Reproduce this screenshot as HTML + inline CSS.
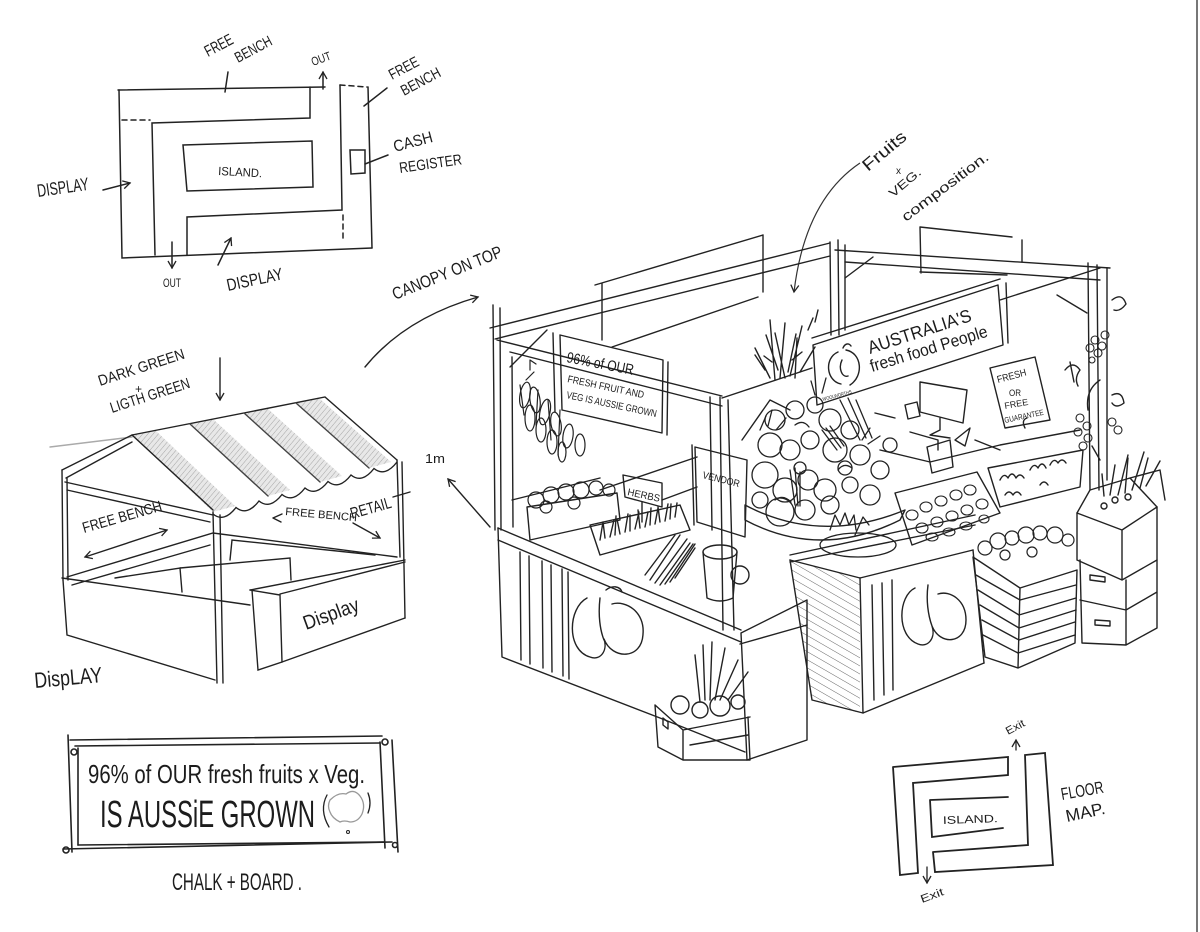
<!DOCTYPE html>
<html><head><meta charset="utf-8"><style>
html,body{margin:0;padding:0;background:#fff;}
svg{display:block;}
text{font-family:"Liberation Sans",sans-serif;fill:#1c1c1c;}
</style></head><body>
<svg width="1200" height="932" viewBox="0 0 1200 932" xmlns="http://www.w3.org/2000/svg">
<defs>
<pattern id="roofh" width="4" height="4" patternUnits="userSpaceOnUse" patternTransform="rotate(40)"><rect width="4" height="4" fill="#e8e8e8"/><line x1="0" y1="0" x2="0" y2="4" stroke="#a5a5a5" stroke-width="1"/></pattern>
<pattern id="hatch" width="7" height="7" patternUnits="userSpaceOnUse" patternTransform="rotate(-60)"><line x1="0" y1="0" x2="0" y2="7" stroke="#555" stroke-width="0.9"/></pattern>
<marker id="ah" markerWidth="10" markerHeight="10" refX="8" refY="5" orient="auto" markerUnits="userSpaceOnUse"><path d="M1 1 L8 5 L1 9" fill="none" stroke="#222" stroke-width="1.3"/></marker>
<marker id="ahs" markerWidth="10" markerHeight="10" refX="2" refY="5" orient="auto" markerUnits="userSpaceOnUse"><path d="M9 1 L2 5 L9 9" fill="none" stroke="#222" stroke-width="1.3"/></marker>
</defs>
<rect width="1200" height="932" fill="#fff"/>
<line x1="1197" y1="0" x2="1197" y2="932" stroke="#777" stroke-width="2"/>

<!-- ========== TOP-LEFT PLAN ========== -->
<g fill="none" stroke="#222" stroke-width="1.5" stroke-linecap="round">
<path d="M118 90 L325 87"/>
<path d="M119 90 L122 258 L372 248"/>
<path d="M310 87 L310 118 L152 123 L155 255"/>
<path d="M122 120 L150 120" stroke-dasharray="5 4"/>
<path d="M187 255 L187 217 L342 210 L340 85"/>
<path d="M340 85 L367 87" stroke-dasharray="5 4"/>
<path d="M368 87 L372 248"/>
<path d="M343 215 L343 242" stroke-dasharray="5 4"/>
<path d="M183 145 L312 141 L313 187 L187 191 Z"/>
<path d="M350 150 L365 150 L365 173 L351 174 Z"/>
<path d="M323 89 L323 72" marker-end="url(#ah)"/>
<path d="M172 242 L172 268" marker-end="url(#ah)"/>
<path d="M103 190 L130 183" marker-end="url(#ah)"/>
<path d="M218 265 L231 238" marker-end="url(#ah)"/>
<path d="M225 92 L228 72"/>
<path d="M364 106 L387 88"/>
<path d="M365 164 L388 155"/>
</g>
<text x="208" y="57" font-size="16" textLength="30" lengthAdjust="spacingAndGlyphs" transform="rotate(-28 208 57)">FREE</text>
<text x="238" y="63" font-size="15" textLength="40" lengthAdjust="spacingAndGlyphs" transform="rotate(-28 238 63)">BENCH</text>
<text x="313" y="66" font-size="12" textLength="20" lengthAdjust="spacingAndGlyphs" transform="rotate(-20 313 66)">OUT</text>
<text x="392" y="80" font-size="15" textLength="32" lengthAdjust="spacingAndGlyphs" transform="rotate(-28 392 80)">FREE</text>
<text x="404" y="96" font-size="15" textLength="43" lengthAdjust="spacingAndGlyphs" transform="rotate(-28 404 96)">BENCH</text>
<text x="395" y="152" font-size="16" textLength="40" lengthAdjust="spacingAndGlyphs" transform="rotate(-15 395 152)">CASH</text>
<text x="400" y="173" font-size="15" textLength="63" lengthAdjust="spacingAndGlyphs" transform="rotate(-8 400 173)">REGISTER</text>
<text x="38" y="197" font-size="18" textLength="52" lengthAdjust="spacingAndGlyphs" transform="rotate(-8 38 197)">DISPLAY</text>
<text x="163" y="287" font-size="12" textLength="18" lengthAdjust="spacingAndGlyphs">OUT</text>
<text x="228" y="291" font-size="17" textLength="57" lengthAdjust="spacingAndGlyphs" transform="rotate(-12 228 291)">DISPLAY</text>
<text x="218" y="175" font-size="12" textLength="44" lengthAdjust="spacingAndGlyphs" transform="rotate(3 218 175)">ISLAND.</text>
<text x="395" y="300" font-size="17" textLength="117" lengthAdjust="spacingAndGlyphs" transform="rotate(-22 395 300)">CANOPY ON TOP</text>

<!-- ========== TENT SKETCH ========== -->
<text x="100" y="386" font-size="15" textLength="90" lengthAdjust="spacingAndGlyphs" transform="rotate(-18 100 386)">DARK GREEN</text>
<text x="135" y="393" font-size="12">+</text>
<text x="112" y="413" font-size="15" textLength="83" lengthAdjust="spacingAndGlyphs" transform="rotate(-18 112 413)">LIGTH GREEN</text>
<g fill="url(#roofh)" stroke="none">
<polygon points="132,435 155,430 235,506 213,512"/>
<polygon points="190,424 213,419 290,490 268,496"/>
<polygon points="244,413 267,408 342,476 320,482"/>
<polygon points="296,403 319,398 391,462 369,468"/>
</g>
<g fill="none" stroke="#222" stroke-width="1.4" stroke-linecap="round">
<path d="M220 358 L220 400" marker-end="url(#ah)"/>
<path d="M50 447 L132 437" stroke="#aaa"/>
<path d="M62 470 L132 435 L213 510"/>
<path d="M66 478 L132 442"/>
<path d="M132 435 L325 397 L397 460"/>
<path d="M65 482 L213 515"/>
<path d="M67 490 L210 522"/>
<path d="M213 514 q11 9 23 -6.5 q11 9 23 -6.5 q11 9 23 -6.5 q11 9 23 -6.5 q11 9 23 -6.5 q11 9 23 -6.5 q11 9 23 -6.5 q11 9 23 -6.5"/>
<path d="M190 424 L268 496 M244 413 L320 482 M296 403 L369 468" stroke="#444"/>
<path d="M62 470 L63 580 M67 478 L68 580"/>
<path d="M397 460 L400 557 M402 462 L405 618"/>
<path d="M213 512 L217 683 M220 515 L223 683"/>
<path d="M62 578 L250 605"/>
<path d="M63 580 L67 635 L215 680"/>
<path d="M67 577 L213 533 L397 557"/>
<path d="M72 585 L210 545"/>
<path d="M115 578 L180 568 L182 592"/>
<path d="M180 568 L290 558 L291 580"/>
<path d="M230 560 L232 540 L375 555"/>
<path d="M250 590 L405 560"/>
<path d="M250 590 L280 595 L282 662 L258 670 L252 590"/>
<path d="M280 594 L405 562"/>
<path d="M282 662 L405 618"/>
<path d="M85 557 L167 530" marker-start="url(#ahs)" marker-end="url(#ah)"/>
<path d="M273 518 L282 514 M273 518 L281 522"/>
<path d="M353 523 L380 538" marker-end="url(#ah)"/>
<path d="M393 497 L410 492"/>
<path d="M490 527 L448 479" marker-end="url(#ah)"/>
<path d="M365 367 Q405 318 478 297" marker-end="url(#ah)"/>
</g>
<text x="84" y="533" font-size="15" textLength="82" lengthAdjust="spacingAndGlyphs" transform="rotate(-16 84 533)">FREE BENCH</text>
<text x="285" y="515" font-size="11" textLength="72" lengthAdjust="spacingAndGlyphs" transform="rotate(5 285 515)">FREE BENCH</text>
<text x="352" y="519" font-size="16" textLength="42" lengthAdjust="spacingAndGlyphs" transform="rotate(-16 352 519)">RETAIL</text>
<text x="306" y="630" font-size="20" textLength="58" lengthAdjust="spacingAndGlyphs" transform="rotate(-20 306 630)">Display</text>
<text x="35" y="688" font-size="22" textLength="68" lengthAdjust="spacingAndGlyphs" transform="rotate(-5 35 688)">DispLAY</text>
<text x="425" y="463" font-size="13" textLength="20" lengthAdjust="spacingAndGlyphs">1m</text>

<!-- ========== CHALK BOARD ========== -->
<g fill="none" stroke="#222" stroke-width="1.6" stroke-linecap="round">
<path d="M70 740 L382 736"/>
<path d="M75 746 L380 743"/>
<path d="M68 735 L72 852"/>
<path d="M78 748 L78 845"/>
<path d="M380 742 L385 848"/>
<path d="M392 740 L398 852"/>
<path d="M63 849 L392 842"/>
<path d="M78 845 L385 842"/>
<circle cx="74" cy="752" r="3"/>
<circle cx="385" cy="742" r="3"/>
<circle cx="66" cy="850" r="3"/>
<circle cx="395" cy="845" r="2.5"/>
<path d="M330 800 q8 -8 16 -6 q8 -6 14 2 q6 8 2 18 q-4 8 -12 8 q-6 -2 -10 0 q-8 -4 -10 -10 q-3 -6 0 -12 Z" stroke="#999" stroke-width="1.3"/>
<path d="M327 795 q-8 15 2 32 M368 793 q4 10 0 20" stroke-width="1.3"/>
<circle cx="348" cy="832" r="1.5" stroke-width="1"/>
</g>
<text x="88" y="783" font-size="26" textLength="277" lengthAdjust="spacingAndGlyphs">96% of OUR fresh fruits x Veg.</text>
<text x="100" y="827" font-size="38" textLength="215" lengthAdjust="spacingAndGlyphs">IS AUSSiE GROWN</text>
<text x="172" y="890" font-size="24" textLength="130" lengthAdjust="spacingAndGlyphs">CHALK + BOARD .</text>

<!-- ========== FLOOR MAP ========== -->
<g fill="none" stroke="#222" stroke-width="1.8" stroke-linecap="round">
<path d="M893 767 L1008 757 L1008 775 L913 783 L918 873 L900 875 L893 767"/>
<path d="M930 800 L1008 797 M930 800 L932 837 L1003 828"/>
<path d="M933 852 L1028 845 L1025 755 L1045 753 L1053 865 L935 872 L933 852"/>
<path d="M1016 750 L1016 740" marker-end="url(#ah)" stroke-width="1.3"/>
<path d="M927 867 L927 883" marker-end="url(#ah)" stroke-width="1.3"/>
</g>
<text x="1008" y="735" font-size="11" textLength="20" lengthAdjust="spacingAndGlyphs" transform="rotate(-28 1008 735)">Exit</text>
<text x="922" y="903" font-size="11" textLength="24" lengthAdjust="spacingAndGlyphs" transform="rotate(-20 922 903)">Exit</text>
<text x="943" y="824" font-size="11" textLength="55" lengthAdjust="spacingAndGlyphs" transform="rotate(-2 943 824)">ISLAND.</text>
<text x="1062" y="800" font-size="17" textLength="43" lengthAdjust="spacingAndGlyphs" transform="rotate(-10 1062 800)">FLOOR</text>
<text x="1067" y="822" font-size="17" textLength="40" lengthAdjust="spacingAndGlyphs" transform="rotate(-12 1067 822)">MAP.</text>

<!-- ========== FRUITS LABEL ========== -->
<text x="868" y="172" font-size="17" textLength="52" lengthAdjust="spacingAndGlyphs" transform="rotate(-40 868 172)">Fruits</text>
<text x="896" y="174" font-size="10">x</text>
<text x="893" y="198" font-size="12" textLength="38" lengthAdjust="spacingAndGlyphs" transform="rotate(-40 893 198)">VEG.</text>
<text x="906" y="222" font-size="14" textLength="105" lengthAdjust="spacingAndGlyphs" transform="rotate(-37 906 222)">composition.</text>
<path d="M860 163 Q805 200 794 292" fill="none" stroke="#333" stroke-width="1.2" marker-end="url(#ah)"/>

<!-- ========== MAIN STALL ========== -->
<polygon points="790,560 860,578 860,713 812,700" fill="url(#hatch)" stroke="none"/>
<g fill="none" stroke="#222" stroke-width="1.4" stroke-linecap="round" stroke-linejoin="round">
<!-- canopy frame -->
<path d="M493 305 L495 530 M500 308 L501 530 M512 357 L513 527"/>
<path d="M490 328 L830 243 M495 339 L830 256"/>
<path d="M497 340 L722 396 M510 352 L722 406"/>
<path d="M510 367 L547 330"/>
<path d="M595 285 L763 235 M602 283 L602 340 M763 235 L763 292 M612 347 L758 297"/>
<path d="M830 242 L831 335 M838 240 L839 335 M845 245 L845 330"/>
<path d="M835 250 L1110 268 M845 262 L1100 280"/>
<path d="M845 278 L873 257"/>
<path d="M920 227 L1012 237 M920 227 L921 273 M920 272 L1007 275 M1022 240 L1022 262"/>
<path d="M1088 263 L1090 490 M1097 265 L1099 490 M1107 268 L1107 480"/>
<path d="M1057 295 L1087 313"/>
<path d="M722 398 L812 368 M1000 300 L1100 268"/>
<path d="M710 397 L712 530 M720 397 L723 630 M728 400 L734 630"/>
<!-- 96% sign -->
<path d="M560 335 L663 360 L662 433 L562 410 Z"/>
<path d="M553 333 L555 412 M668 362 L667 435"/>
<!-- Australia sign -->
<path d="M813 345 L998 285 L1003 345 L817 405 Z"/>
<path d="M812 338 L1000 279 M1006 283 L1008 343"/>
<path d="M838 352 C824 358 826 381 841 384 M846 350 C862 353 864 376 850 385 M842 360 C838 368 842 378 848 376 M843 348 c2 -5 6 -5 8 -2"/>
<!-- fresh sign -->
<path d="M990 368 L1035 357 L1050 420 L1005 428 Z"/>
<path d="M1025 428 q-4 -8 2 -10"/>
<!-- vendor sign -->
<path d="M695 447 L747 460 L745 537 L697 522 Z M692 445 L694 525"/>
<!-- herbs sign -->
<path d="M623 475 L662 483 L662 507 L625 497 Z M642 502 L642 522"/>
<!-- monitor etc -->
<path d="M920 382 L967 390 L963 423 L920 412 Z M940 418 L940 430 L930 435 L950 438"/>
<path d="M905 405 l12 -3 l3 14 l-12 3 Z"/>
<path d="M910 432 L938 440 L938 450"/>
<path d="M927 447 L950 440 L953 467 L932 473 Z"/>
<path d="M955 440 l15 -12 l-5 18 Z"/>
<path d="M875 413 L895 418 M880 450 L930 462 L1000 445 L1080 430 M975 440 L1000 450"/>
<!-- bananas -->
<g stroke-width="1.2">
<ellipse cx="525" cy="395" rx="5" ry="13" transform="rotate(10 525 395)"/>
<ellipse cx="535" cy="400" rx="5" ry="13" transform="rotate(-8 535 400)"/>
<ellipse cx="530" cy="418" rx="5" ry="13"/>
<ellipse cx="545" cy="412" rx="5" ry="13" transform="rotate(12 545 412)"/>
<ellipse cx="541" cy="430" rx="5" ry="12"/>
<ellipse cx="556" cy="424" rx="5" ry="12" transform="rotate(-10 556 424)"/>
<ellipse cx="552" cy="442" rx="5" ry="12"/>
<ellipse cx="568" cy="436" rx="5" ry="12" transform="rotate(8 568 436)"/>
<ellipse cx="562" cy="452" rx="4" ry="10"/>
<ellipse cx="580" cy="445" rx="5" ry="11"/>
<path d="M530 370 l0 -10 l6 4 M526 380 l8 -8 M520 385 l4 30 M538 390 l-2 35 M548 400 l3 40 M560 410 l-2 45"/>
</g>
<!-- leaves above pile -->
<path d="M775 380 l-5 -60 M780 378 l5 -55 M785 378 l-10 -45 M790 376 l12 -50 M795 378 l2 -40 M770 378 l-15 -30 M800 372 l15 -25 M765 370 l-10 -15 M808 330 l5 -12 M815 322 l3 -12 M772 362 l-8 -6 M792 360 l10 -8 M778 370 l-12 -35 M788 372 l8 -38"/>
<!-- fruit pile -->
<path d="M745 520 Q820 560 900 520 L905 510 Q820 545 745 505 Z"/>
<path d="M742 440 L770 400 L790 410" />
<g stroke-width="1.3">
<circle cx="775" cy="420" r="10"/><circle cx="795" cy="410" r="9"/><circle cx="815" cy="405" r="8"/>
<circle cx="830" cy="420" r="11"/><circle cx="850" cy="430" r="9"/><circle cx="770" cy="445" r="12"/>
<circle cx="790" cy="450" r="10"/><circle cx="810" cy="440" r="9"/><circle cx="835" cy="450" r="12"/>
<circle cx="860" cy="455" r="10"/><circle cx="880" cy="470" r="9"/><circle cx="765" cy="475" r="13"/>
<circle cx="785" cy="490" r="12"/><circle cx="808" cy="480" r="10"/><circle cx="825" cy="490" r="11"/>
<circle cx="850" cy="485" r="8"/><circle cx="870" cy="495" r="10"/><circle cx="780" cy="512" r="14"/>
<circle cx="805" cy="510" r="10"/><circle cx="830" cy="505" r="9"/><circle cx="760" cy="500" r="8"/>
<circle cx="890" cy="445" r="7"/><circle cx="845" cy="468" r="7"/><circle cx="800" cy="468" r="6"/>
<path d="M822 430 l15 20 M826 428 l15 20 M830 426 l14 20 M840 400 l20 40 M848 398 l18 40 M856 400 l16 38 M790 470 l5 35 M795 468 l3 38 M800 472 l0 34"/>
<path d="M760 430 l6 -14 M768 426 l4 -16 M776 430 l10 -12 M815 395 l-4 -14 M822 393 l4 -15 M862 440 l8 -12 M868 444 l12 -8 M775 500 q8 -6 16 2 M795 425 q8 -6 14 2 M838 470 q6 -8 14 -2"/>
<path d="M830 530 l5 -15 l5 10 l5 -12 l4 12 l5 -10 l2 15 M855 535 l8 -18 l6 8"/>
<ellipse cx="858" cy="545" rx="38" ry="12"/>
</g>
<!-- trays on right counter -->
<path d="M895 493 L977 472 L1000 513 L912 545 Z"/>
<g stroke-width="1.1">
<ellipse cx="912" cy="515" rx="6" ry="5"/><ellipse cx="926" cy="507" rx="6" ry="5"/><ellipse cx="941" cy="501" rx="6" ry="5"/>
<ellipse cx="956" cy="495" rx="6" ry="5"/><ellipse cx="970" cy="490" rx="6" ry="5"/><ellipse cx="922" cy="528" rx="6" ry="5"/>
<ellipse cx="937" cy="522" rx="6" ry="5"/><ellipse cx="952" cy="516" rx="6" ry="5"/><ellipse cx="967" cy="510" rx="6" ry="5"/>
<ellipse cx="982" cy="504" rx="6" ry="5"/><ellipse cx="932" cy="537" rx="6" ry="4"/><ellipse cx="949" cy="532" rx="6" ry="4"/>
<ellipse cx="966" cy="526" rx="6" ry="4"/><ellipse cx="984" cy="519" rx="5" ry="4"/>
</g>
<path d="M988 468 L1083 450 L1080 487 L1000 507 Z"/>
<path d="M1000 480 q4 -8 8 -2 q4 -8 8 0 q4 -6 8 0 M1030 470 q4 -8 8 -2 q4 -8 8 0 M1050 465 q4 -8 8 -2 q4 -6 8 0 M1005 495 q4 -6 8 0 q4 -6 8 0 M1040 485 q4 -6 8 0"/>
<!-- left counter -->
<path d="M498 528 L741 630 M498 540 L741 642"/>
<path d="M498 528 L502 657 L660 718 M660 718 L745 752"/>
<path d="M520 552 L521 660 M529 556 L530 664 M542 561 L543 668 M551 565 L552 672 M562 569 L563 676 M568 572 L569 679"/>
<path d="M587 598 C568 608 566 650 590 657 C600 661 608 651 604 639 M604 639 C612 660 642 660 643 634 C645 612 626 600 612 604 M600 598 C598 615 600 630 604 640 M606 590 c6 -5 14 -4 16 2"/>
<!-- middle block -->
<path d="M741 633 L807 600 L807 740 L747 760 L741 633"/>
<path d="M740 644 L807 625"/>
<!-- right counter -->
<path d="M790 560 L860 578 L973 550"/>
<path d="M790 555 L975 515 M790 562 L975 525"/>
<path d="M790 560 L812 700 L863 713 L984 663"/>
<path d="M860 578 L863 713 M973 550 L984 663"/>
<path d="M872 585 L874 700 M882 583 L884 695 M892 580 L893 690"/>
<path d="M915 588 C898 596 896 636 918 644 C928 648 936 638 932 626 M932 626 C940 646 966 644 966 620 C966 600 950 590 938 594 M928 585 C926 600 928 615 932 626"/>
<!-- stack A -->
<path d="M973 557 L1020 588 L1018 668 L985 657 Z M1020 588 L1077 570 L1075 643 L1018 668"/>
<path d="M976 575 L1020 600 M978 590 L1019 615 M980 605 L1019 628 M982 620 L1019 640 M983 635 L1018 653"/>
<path d="M1020 600 L1076 585 M1019 615 L1076 598 M1019 628 L1076 610 M1019 640 L1075 622 M1018 653 L1075 635"/>
<g stroke-width="1.2">
<circle cx="985" cy="548" r="7"/><circle cx="998" cy="541" r="8"/><circle cx="1012" cy="538" r="7"/><circle cx="1026" cy="535" r="8"/>
<circle cx="1040" cy="533" r="7"/><circle cx="1055" cy="535" r="8"/><circle cx="1068" cy="540" r="6"/><circle cx="1005" cy="555" r="5"/><circle cx="1032" cy="552" r="5"/>
</g>
<!-- stack B -->
<path d="M1077 513 L1122 530 L1157 507 M1077 513 L1077 560 M1122 530 L1122 580 M1157 507 L1157 560 M1077 560 L1122 580 L1157 560"/>
<path d="M1077 513 L1090 490 L1130 478 L1157 507 M1130 478 L1160 470 L1165 500"/>
<path d="M1080 560 L1082 643 L1126 645 L1157 628 L1157 560 M1126 580 L1126 645 M1080 600 L1126 610 L1157 592"/>
<path d="M1090 575 l15 2 l0 5 l-15 -2 Z M1095 620 l15 1 l0 5 l-15 -1 Z"/>
<path d="M1110 495 l5 -30 M1118 495 l10 -40 M1125 493 l3 -35 M1132 490 l12 -38 M1140 488 l8 -30 M1146 486 l14 -25 M1104 496 l-2 -22"/>
<circle cx="1115" cy="500" r="3"/><circle cx="1128" cy="497" r="3"/><circle cx="1104" cy="506" r="3"/>
<!-- grapes / vines on right post -->
<g stroke-width="1.1">
<circle cx="1095" cy="340" r="4"/><circle cx="1102" cy="346" r="4"/><circle cx="1090" cy="348" r="4"/><circle cx="1098" cy="353" r="4"/><circle cx="1105" cy="335" r="4"/><circle cx="1092" cy="360" r="3"/>
<circle cx="1080" cy="418" r="4"/><circle cx="1087" cy="426" r="4"/><circle cx="1078" cy="432" r="4"/><circle cx="1088" cy="438" r="4"/><circle cx="1083" cy="446" r="4"/>
<circle cx="1112" cy="422" r="4"/><circle cx="1118" cy="430" r="4"/>
</g>
<path d="M1065 370 q8 -10 15 0 q-6 8 -2 16 M1070 362 l4 20 M1112 300 q10 -8 14 4 q-6 8 -12 6 M1112 395 q10 -5 12 8 q-8 6 -12 0 M1100 380 q-15 10 -12 30 M1100 460 l-8 -14"/>
<!-- left counter items -->
<path d="M527 507 L617 493 L620 520 L530 540 Z M527 507 L530 540"/>
<g stroke-width="1.2">
<circle cx="536" cy="500" r="8"/><circle cx="551" cy="495" r="8"/><circle cx="566" cy="492" r="8"/><circle cx="581" cy="490" r="8"/>
<circle cx="596" cy="488" r="7"/><circle cx="609" cy="490" r="6"/><circle cx="546" cy="507" r="6"/><circle cx="574" cy="503" r="6"/>
</g>
<path d="M590 525 L680 505 L690 530 L600 555 Z"/>
<path d="M600 540 l3 -18 M605 538 l-2 -16 M610 537 l4 -17 M615 535 l1 -19 M620 534 l-3 -15 M625 532 l3 -18 M630 531 l0 -16 M635 529 l4 -17 M640 528 l-2 -18 M645 527 l3 -15 M650 525 l1 -17 M655 524 l3 -16 M660 522 l-2 -15 M665 521 l3 -17 M670 519 l1 -15 M675 517 l2 -14"/>
<path d="M650 580 l30 -45 M655 583 l32 -44 M660 585 l30 -42 M665 584 l28 -40 M670 582 l25 -38 M645 575 l30 -40 M675 578 l20 -30"/>
<path d="M600 490 L697 457 M662 500 L697 487 M512 500 L600 478"/>
<ellipse cx="720" cy="552" rx="17" ry="7"/>
<path d="M703 552 L707 598 M737 552 L733 598 M707 598 Q720 604 733 598"/>
<circle cx="740" cy="575" r="9"/>
<!-- crate bottom-left -->
<path d="M655 705 L683 730 L750 717 M655 705 L658 747 L683 760 L750 760 M683 730 L683 760 M748 717 L750 760"/>
<path d="M663 718 l5 4 l0 7 l-5 -4 Z"/>
<path d="M690 745 L748 735"/>
<circle cx="680" cy="705" r="9"/><circle cx="700" cy="710" r="8"/><circle cx="720" cy="706" r="10"/><circle cx="738" cy="702" r="7"/>
<path d="M705 700 L703 645 M710 700 L712 642 M715 700 L725 648 M720 700 L738 660 M728 700 L748 672 M700 702 L695 655"/>
</g>
<!-- stall signs text -->
<text x="566" y="362" font-size="15" textLength="68" lengthAdjust="spacingAndGlyphs" transform="rotate(11 566 362)">96% of OUR</text>
<text x="567" y="382" font-size="10" textLength="78" lengthAdjust="spacingAndGlyphs" transform="rotate(12 567 382)">FRESH FRUIT AND</text>
<text x="566" y="398" font-size="10" textLength="92" lengthAdjust="spacingAndGlyphs" transform="rotate(12 566 398)">VEG IS AUSSIE GROWN</text>
<text x="870" y="354" font-size="18" textLength="108" lengthAdjust="spacingAndGlyphs" transform="rotate(-18 870 354)">AUSTRALIA'S</text>
<text x="872" y="372" font-size="17" textLength="122" lengthAdjust="spacingAndGlyphs" transform="rotate(-17 872 372)">fresh food People</text>
<text x="823" y="401" font-size="5" textLength="30" lengthAdjust="spacingAndGlyphs" transform="rotate(-15 823 401)">WOOLWORTHS</text>
<text x="998" y="383" font-size="10" textLength="30" lengthAdjust="spacingAndGlyphs" transform="rotate(-15 998 383)">FRESH</text>
<text x="1009" y="396" font-size="9" textLength="12" lengthAdjust="spacingAndGlyphs">OR</text>
<text x="1005" y="409" font-size="9" textLength="24" lengthAdjust="spacingAndGlyphs" transform="rotate(-10 1005 409)">FREE</text>
<text x="1005" y="423" font-size="8" textLength="40" lengthAdjust="spacingAndGlyphs" transform="rotate(-12 1005 423)">GUARANTEE</text>
<text x="702" y="478" font-size="10" textLength="38" lengthAdjust="spacingAndGlyphs" transform="rotate(14 702 478)">VENDOR</text>
<text x="627" y="495" font-size="10" textLength="33" lengthAdjust="spacingAndGlyphs" transform="rotate(12 627 495)">HERBS</text>
</svg>
</body></html>
